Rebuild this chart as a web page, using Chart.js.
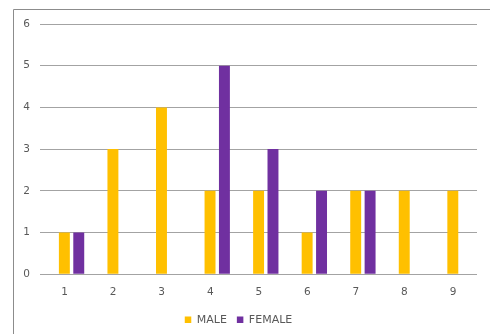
<!DOCTYPE html>
<html>
<head>
<meta charset="utf-8">
<script src="https://cdn.jsdelivr.net/npm/chart.js@4"></script>
<style>
  html, body { margin: 0; padding: 0; background: #fff; }
  canvas { display: block; }
</style>
</head>
<body>
<canvas id="chart" width="490" height="334"></canvas>
<script>
// Counts per group
const categories = [1, 2, 3, 4, 5, 6, 7, 8, 9];
const maleValues = [1, 3, 4, 2, 2, 1, 2, 2, 2];
const femaleValues = [1, 0, 0, 5, 3, 2, 2, 0, 0];
const yTicks = [0, 1, 2, 3, 4, 5, 6];
const seriesNames = ['MALE', 'FEMALE'];

const textColor = '#595959';
const tickFont = { family: '"DejaVu Sans", sans-serif', size: 10.5 };
const legendFont = { family: '"DejaVu Sans", sans-serif', size: 11 };

// Thin frame along the top and left edges of the figure
const framePlugin = {
  id: 'frame',
  beforeDraw(chart) {
    const ctx = chart.ctx;
    ctx.save();
    ctx.strokeStyle = '#8c8c8c';
    ctx.lineWidth = 1;
    ctx.beginPath();
    ctx.moveTo(13.5, chart.height);
    ctx.lineTo(13.5, 9.5);
    ctx.lineTo(chart.width, 9.5);
    ctx.stroke();
    ctx.restore();
  }
};

const toPoints = vals => vals.map((v, i) => ({ x: categories[i], y: v }));

new Chart(document.getElementById('chart'), {
  type: 'bar',
  data: {
    datasets: [
      {
        label: seriesNames[0],
        data: toPoints(maleValues),
        backgroundColor: '#FFC000',
        borderWidth: 0,
        barPercentage: 0.76,
        categoryPercentage: 0.593
      },
      {
        label: seriesNames[1],
        data: toPoints(femaleValues),
        backgroundColor: '#7030A0',
        borderWidth: 0,
        barPercentage: 0.76,
        categoryPercentage: 0.593
      }
    ]
  },
  options: {
    responsive: false,
    animation: false,
    devicePixelRatio: 1,
    layout: { padding: { top: 24, left: 0, right: 13, bottom: -1.2 } },
    plugins: {
      tooltip: { enabled: false },
      legend: {
        position: 'bottom',
        labels: {
          boxWidth: 6.5,
          boxHeight: 6.5,
          padding: 10,
          color: textColor,
          font: legendFont
        }
      }
    },
    scales: {
      x: {
        type: 'linear',
        offset: false,
        min: 0.35,
        max: 9.35,
        afterBuildTicks: s => { s.ticks = categories.map(v => ({ value: v })); },
        afterFit: s => { s.height = 30; },
        grid: { display: false, drawTicks: false },
        border: { display: false },
        ticks: {
          autoSkip: false,
          maxRotation: 0,
          labelOffset: -7,
          padding: 12,
          color: textColor,
          font: tickFont,
          callback: v => String(v)
        }
      },
      y: {
        min: 0,
        max: 6,
        afterBuildTicks: s => { s.ticks = yTicks.map(v => ({ value: v })); },
        afterFit: s => { s.width = 40; },
        grid: { color: '#a3a3a3', lineWidth: 1, drawTicks: false },
        border: { display: false },
        ticks: {
          padding: 10,
          color: textColor,
          font: tickFont,
          callback: v => String(v)
        }
      }
    }
  },
  plugins: [framePlugin]
});
</script>
</body>
</html>
